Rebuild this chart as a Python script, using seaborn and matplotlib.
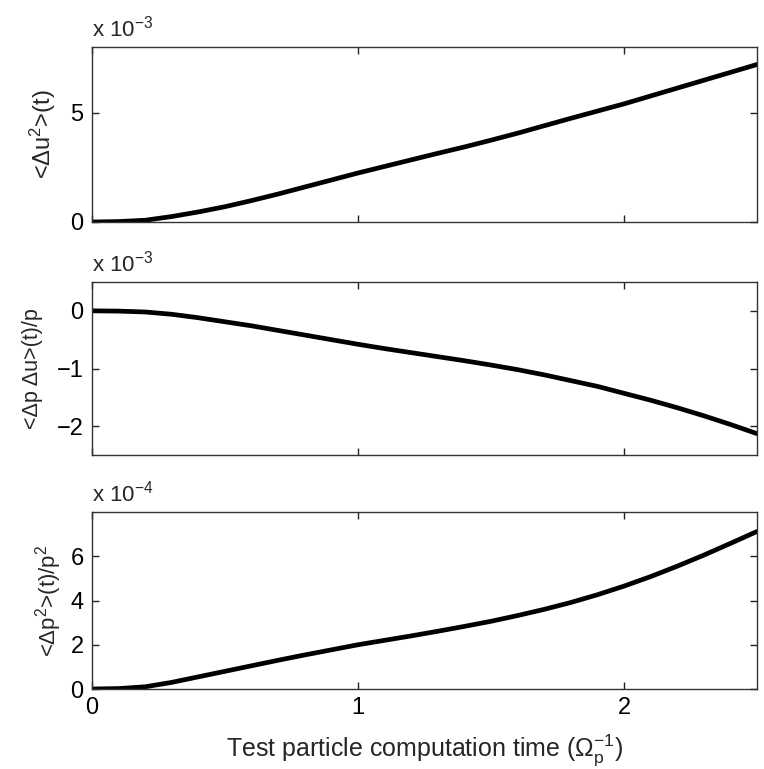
import numpy as np
import pandas as pd
import matplotlib
matplotlib.use("Agg")
import matplotlib.pyplot as plt
from matplotlib.ticker import FuncFormatter, FixedLocator
import seaborn as sns

# Test-particle diffusion moments versus computation time (units of 1/Omega_p)
t = [0.0, 0.1, 0.2, 0.3, 0.4, 0.5, 0.6, 0.7, 0.8, 0.9, 1.0, 1.1, 1.2,
     1.3, 1.4, 1.5, 1.6, 1.7, 1.8, 1.9, 2.0, 2.1, 2.2, 2.3, 2.4, 2.5]

# <Delta u^2>(t)
du2 = [0.0, 0.02e-3, 0.08e-3, 0.25e-3, 0.46e-3, 0.70e-3, 0.98e-3, 1.28e-3,
       1.60e-3, 1.92e-3, 2.24e-3, 2.54e-3, 2.84e-3, 3.14e-3, 3.43e-3,
       3.74e-3, 4.06e-3, 4.40e-3, 4.74e-3, 5.07e-3, 5.40e-3, 5.76e-3,
       6.12e-3, 6.48e-3, 6.84e-3, 7.20e-3]

# <Delta p Delta u>(t)/p
dpdu = [0.0, -0.005e-3, -0.02e-3, -0.06e-3, -0.12e-3, -0.19e-3, -0.26e-3,
        -0.34e-3, -0.42e-3, -0.50e-3, -0.58e-3, -0.655e-3, -0.725e-3,
        -0.795e-3, -0.865e-3, -0.94e-3, -1.02e-3, -1.11e-3, -1.21e-3,
        -1.31e-3, -1.43e-3, -1.55e-3, -1.68e-3, -1.82e-3, -1.97e-3, -2.13e-3]

# <Delta p^2>(t)/p^2
dp2 = [0.0, 0.02e-4, 0.10e-4, 0.30e-4, 0.55e-4, 0.80e-4, 1.05e-4, 1.30e-4,
       1.54e-4, 1.77e-4, 2.00e-4, 2.20e-4, 2.40e-4, 2.61e-4, 2.83e-4,
       3.06e-4, 3.32e-4, 3.60e-4, 3.91e-4, 4.26e-4, 4.65e-4, 5.08e-4,
       5.55e-4, 6.05e-4, 6.58e-4, 7.12e-4]

ylabels = ["<Δu$^{2}$>(t)", "<Δp Δu>(t)/p", "<Δp$^{2}$>(t)/p$^{2}$"]
scales = [1e-3, 1e-3, 1e-4]
exps = ["-3", "-3", "-4"]
ylims = [(0, 8e-3), (-2.5e-3, 0.5e-3), (0, 8e-4)]
yticks = [[0, 5e-3], [-2e-3, -1e-3, 0], [0, 2e-4, 4e-4, 6e-4]]
xticks = [0, 1, 2]
xlabel = "Test particle computation time (Ω$_{\\mathrm{p}}^{-1}$)"

sns.set_theme(style="ticks")
plt.rcParams["font.family"] = ["Liberation Sans", "DejaVu Sans"]
plt.rcParams["mathtext.fontset"] = "custom"
plt.rcParams["mathtext.rm"] = "Liberation Sans"
plt.rcParams["mathtext.it"] = "Liberation Sans:italic"
plt.rcParams["mathtext.sf"] = "Liberation Sans"
plt.rcParams["axes.unicode_minus"] = True

W, H = 764, 769
fig = plt.figure(figsize=(W / 100, H / 100), dpi=100)

# panel boxes in pixels: (top, bottom)
boxes = [(47, 222), (282, 455), (512, 689)]
left_px, right_px = 92, 757
label_right = [58, 43, 64]
label_sizes = [17, 15.5, 16]

series = [du2, dpdu, dp2]
for i, (y, (top, bot)) in enumerate(zip(series, boxes)):
    ax = fig.add_axes([left_px / W, 1 - bot / H,
                       (right_px - left_px) / W, (bot - top) / H])
    df = pd.DataFrame({"t": t, "v": y})
    sns.lineplot(data=df, x="t", y="v", ax=ax, color="black", linewidth=3.4)
    ax.set_xlim(0, 2.5)
    ax.set_ylim(*ylims[i])
    ax.xaxis.set_major_locator(FixedLocator(xticks))
    ax.yaxis.set_major_locator(FixedLocator(yticks[i]))
    s = scales[i]
    ax.yaxis.set_major_formatter(
        FuncFormatter(lambda v, _, s=s: f"{v / s:.0f}".replace("-", "\u2212")))
    ax.tick_params(direction="in", top=True, right=True, length=5, width=1,
                   colors="#222222", labelsize=17, labelcolor="black", pad=6)
    for sp in ax.spines.values():
        sp.set_color("#333333")
        sp.set_linewidth(1.0)
    if i < 2:
        ax.set_xticklabels([])
        ax.set_xlabel("")
    else:
        ax.set_xlabel(xlabel, fontsize=18, labelpad=9)
    ax.set_ylabel(ylabels[i], fontsize=label_sizes[i])
    ax.yaxis.set_label_coords((label_right[i] - left_px) / (right_px - left_px), 0.5)
    ax.text(0.0, 1.03, "x 10$^{" + exps[i].replace("-", "\u2212") + "}$",
            transform=ax.transAxes, fontsize=16, ha="left", va="bottom")

fig.savefig("out.png", dpi=100, facecolor="white")
